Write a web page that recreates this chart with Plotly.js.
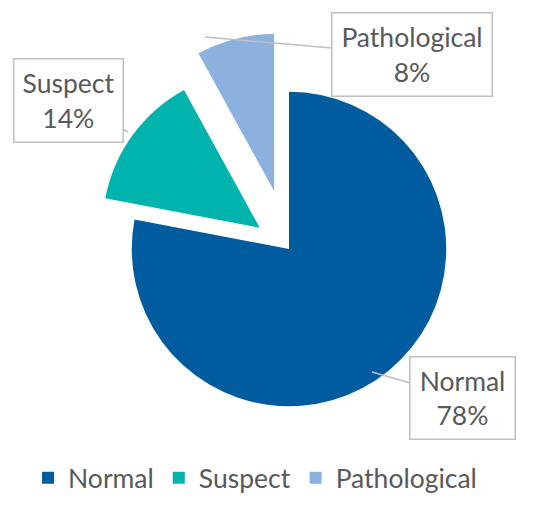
<!DOCTYPE html>
<html>
<head>
<meta charset="utf-8">
<script src="https://cdn.plot.ly/plotly-3.0.1.min.js"></script>
<style>
  html, body { margin: 0; padding: 0; background: #ffffff; }
  #chart { width: 550px; height: 508px; }
</style>
</head>
<body>
<div id="chart"></div>
<script>
// 胎児心拍パターン分類の割合
const labels = ['Normal', 'Suspect', 'Pathological'];
const percents = [78, 14, 8];
const sliceColors = ['#005c9e', '#00b3ad', '#8db1df'];
const pulls = [0, 0.23, 0.38];

const textFont = { family: 'Lato, "Open Sans", sans-serif', size: 26.5, color: '#595959' };

// 吹き出しラベル（矢印先端と箱のオフセット）
const calloutPos = [
    { x: 372, y: 372, ax: 90, ay: 26, w: 100, h: 77 },
    { x: 128, y: 132, ax: -60, ay: -32, w: 104, h: 78 },
    { x: 205, y: 37, ax: 207, ay: 18, w: 155, h: 78 }
];

const W = 550, H = 508;

const trace = {
    type: 'pie',
    labels: labels,
    values: percents,
    sort: false,
    direction: 'clockwise',
    rotation: 0,
    pull: pulls,
    marker: { colors: sliceColors, line: { width: 0 } },
    textinfo: 'none',
    hoverinfo: 'label+percent',
    domain: { x: [72 / W, 506 / W], y: [42 / H, 476 / H] }
};

const annotations = labels.map((name, i) => {
    const p = calloutPos[i];
    return {
        xref: 'paper', yref: 'paper',
        x: p.x / W, y: 1 - p.y / H,
        ax: p.ax, ay: p.ay,
        text: `${name}<br>${percents[i]}%`,
        font: textFont,
        align: 'center',
        valign: 'middle',
        width: p.w, height: p.h,
        bgcolor: '#ffffff',
        bordercolor: '#bfbfbf',
        borderwidth: 1.5,
        borderpad: 2,
        showarrow: true,
        arrowhead: 0,
        arrowwidth: 1.5,
        arrowcolor: '#bfbfbf',
        standoff: 0
    };
});

const layout = {
    width: W,
    height: H,
    margin: { l: 0, r: 0, t: 0, b: 0 },
    paper_bgcolor: '#ffffff',
    showlegend: true,
    legend: {
        orientation: 'h',
        x: 0.051, xanchor: 'left',
        y: 0.059, yanchor: 'middle',
        font: textFont,
        traceorder: 'normal'
    },
    annotations: annotations
};

Plotly.newPlot('chart', [trace], layout, { staticPlot: true });
</script>
</body>
</html>
